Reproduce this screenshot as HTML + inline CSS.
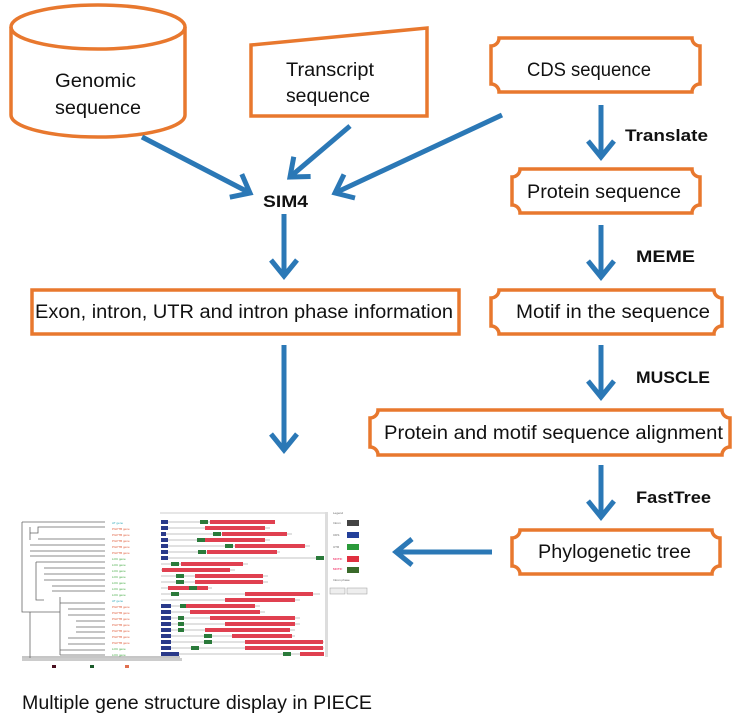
<!DOCTYPE html>
<html><head><meta charset="utf-8"><style>
html,body{margin:0;padding:0;background:#fff;}
svg{display:block;font-family:"Liberation Sans",sans-serif;}
.b{fill:none;stroke:#e8782e;stroke-width:3.5}
.a{stroke:#2b78b6;stroke-width:5;fill:none;stroke-linecap:butt}
.t{font-size:19px;fill:#111}
.l{font-size:17px;font-weight:bold;fill:#111}
</style></head><body>
<svg width="742" height="720" viewBox="0 0 742 720" xmlns="http://www.w3.org/2000/svg">
<defs>
<marker id="ah" viewBox="0 0 24 32" refX="19" refY="16" markerWidth="24" markerHeight="32" orient="auto" markerUnits="userSpaceOnUse">
<path d="M3,3 L19,16 L3,29" fill="none" stroke="#2b78b6" stroke-width="5" stroke-linejoin="miter"/>
</marker>
</defs>
<!-- cylinder -->
<path class="b" d="M11,27 L11,115 A87,22 0 0 0 185,115 L185,27"/>
<ellipse class="b" cx="98" cy="27" rx="87" ry="22"/>
<text class="t" x="55" y="87" textLength="81" lengthAdjust="spacingAndGlyphs">Genomic</text>
<text class="t" x="55" y="114" textLength="86" lengthAdjust="spacingAndGlyphs">sequence</text>
<!-- trapezoid -->
<path class="b" d="M251,45 L427,28 L427,116 L251,116 Z"/>
<text class="t" x="286" y="76" textLength="88" lengthAdjust="spacingAndGlyphs">Transcript</text>
<text class="t" x="286" y="102" textLength="84" lengthAdjust="spacingAndGlyphs">sequence</text>
<!-- scalloped boxes -->
<path class="b" d="M499,38 L692,38 A8,8 0 0 0 700,46 L700,84 A8,8 0 0 0 692,92 L499,92 A8,8 0 0 0 491,84 L491,46 A8,8 0 0 0 499,38 Z"/>
<text class="t" x="527" y="76" textLength="124" lengthAdjust="spacingAndGlyphs">CDS sequence</text>
<path class="b" d="M520,169 L692,169 A8,8 0 0 0 700,177 L700,205 A8,8 0 0 0 692,213 L520,213 A8,8 0 0 0 512,205 L512,177 A8,8 0 0 0 520,169 Z"/>
<text class="t" x="527" y="198" textLength="154" lengthAdjust="spacingAndGlyphs">Protein sequence</text>
<rect class="b" x="32" y="290" width="427" height="44"/>
<text class="t" x="35" y="318" textLength="418" lengthAdjust="spacingAndGlyphs">Exon, intron, UTR and intron phase information</text>
<path class="b" d="M499,290 L714,290 A8,8 0 0 0 722,298 L722,326 A8,8 0 0 0 714,334 L499,334 A8,8 0 0 0 491,326 L491,298 A8,8 0 0 0 499,290 Z"/>
<text class="t" x="516" y="318" textLength="194" lengthAdjust="spacingAndGlyphs">Motif in the sequence</text>
<path class="b" d="M378,410 L722,410 A8,8 0 0 0 730,418 L730,447 A8,8 0 0 0 722,455 L378,455 A8,8 0 0 0 370,447 L370,418 A8,8 0 0 0 378,410 Z"/>
<text class="t" x="384" y="439" textLength="339" lengthAdjust="spacingAndGlyphs">Protein and motif sequence alignment</text>
<path class="b" d="M520,530 L712,530 A8,8 0 0 0 720,538 L720,566 A8,8 0 0 0 712,574 L520,574 A8,8 0 0 0 512,566 L512,538 A8,8 0 0 0 520,530 Z"/>
<text class="t" x="538" y="558" textLength="153" lengthAdjust="spacingAndGlyphs">Phylogenetic tree</text>
<!-- labels -->
<text class="l" x="263" y="207" textLength="45" lengthAdjust="spacingAndGlyphs">SIM4</text>
<text class="l" x="625" y="141" textLength="83" lengthAdjust="spacingAndGlyphs">Translate</text>
<text class="l" x="636" y="262" textLength="59" lengthAdjust="spacingAndGlyphs">MEME</text>
<text class="l" x="636" y="383" textLength="74" lengthAdjust="spacingAndGlyphs">MUSCLE</text>
<text class="l" x="636" y="503" textLength="75" lengthAdjust="spacingAndGlyphs">FastTree</text>
<!-- arrows -->
<line class="a" x1="142" y1="137" x2="250" y2="193" marker-end="url(#ah)"/>
<line class="a" x1="350" y1="126" x2="290" y2="177" marker-end="url(#ah)"/>
<line class="a" x1="502" y1="115" x2="335" y2="193" marker-end="url(#ah)"/>
<line class="a" x1="284" y1="214" x2="284" y2="276" marker-end="url(#ah)"/>
<line class="a" x1="284" y1="345" x2="284" y2="450" marker-end="url(#ah)"/>
<line class="a" x1="601" y1="105" x2="601" y2="157" marker-end="url(#ah)"/>
<line class="a" x1="601" y1="225" x2="601" y2="277" marker-end="url(#ah)"/>
<line class="a" x1="601" y1="345" x2="601" y2="397" marker-end="url(#ah)"/>
<line class="a" x1="601" y1="465" x2="601" y2="517" marker-end="url(#ah)"/>
<line class="a" x1="492" y1="552" x2="396" y2="552" marker-end="url(#ah)"/>
<!-- thumbnail -->
<g stroke="#666" stroke-width="0.8" fill="none">
<path d="M22,522 L105,522 M22,522 L22,612 L30,612 M30,527 L30,540 M30,533 L38,533 L38,527 L105,527 M38,539 L105,539 M30,545 L105,545 M30,551 L105,551 M30,556 L105,556"/>
<path d="M36,562 L105,562 M36,562 L36,600 L44,600 M44,568 L105,568 M44,574 L105,574 M44,580 L105,580 M52,586 L105,586 M52,591 L105,591"/>
<path d="M30,612 L30,660 M30,612 L60,612 M60,597 L60,655 M60,603 L105,603 M68,609 L105,609 M68,615 L105,615 M76,621 L105,621 M76,627 L105,627 M76,632 L105,632 M68,638 L105,638 M68,644 L105,644 M60,650 L105,650 M60,655 L105,655"/>
<path d="M22,657 L180,657"/>
</g>
<g font-size="3" fill="#e06040">
<text x="112" y="524" fill="#3ab">AT gene</text><text x="112" y="530">PGPTB gene</text><text x="112" y="536">PGPTB gene</text><text x="112" y="542">PGPTB gene</text><text x="112" y="548">PGPTB gene</text><text x="112" y="554">PGPTB gene</text>
<text x="112" y="560" fill="#4a4">LOC gene</text><text x="112" y="566" fill="#4a4">LOC gene</text><text x="112" y="572" fill="#4a4">LOC gene</text><text x="112" y="578" fill="#4a4">LOC gene</text><text x="112" y="584" fill="#4a4">LOC gene</text><text x="112" y="590" fill="#4a4">LOC gene</text><text x="112" y="596" fill="#4a4">LOC gene</text>
<text x="112" y="602" fill="#3ab">AT gene</text><text x="112" y="608">PGPTB gene</text><text x="112" y="614">PGPTB gene</text><text x="112" y="620">PGPTB gene</text><text x="112" y="626">PGPTB gene</text><text x="112" y="632">PGPTB gene</text><text x="112" y="638">PGPTB gene</text><text x="112" y="644">PGPTB gene</text><text x="112" y="650" fill="#4a4">LOC gene</text><text x="112" y="656" fill="#4a4">LOC gene</text>
</g>
<line x1="160" y1="513" x2="325" y2="513" stroke="#999" stroke-width="0.6"/>
<g stroke="#888" stroke-width="0.6">
<line x1="161" y1="522" x2="275" y2="522"/><line x1="161" y1="528" x2="270" y2="528"/><line x1="161" y1="534" x2="292" y2="534"/><line x1="161" y1="540" x2="270" y2="540"/><line x1="161" y1="546" x2="310" y2="546"/><line x1="161" y1="552" x2="280" y2="552"/><line x1="161" y1="558" x2="322" y2="558"/><line x1="161" y1="564" x2="248" y2="564"/><line x1="161" y1="570" x2="235" y2="570"/><line x1="161" y1="576" x2="268" y2="576"/><line x1="161" y1="582" x2="268" y2="582"/><line x1="161" y1="588" x2="212" y2="588"/><line x1="161" y1="594" x2="320" y2="594"/><line x1="161" y1="600" x2="300" y2="600"/><line x1="161" y1="606" x2="260" y2="606"/><line x1="161" y1="612" x2="265" y2="612"/><line x1="161" y1="618" x2="300" y2="618"/><line x1="161" y1="624" x2="300" y2="624"/><line x1="161" y1="630" x2="295" y2="630"/><line x1="161" y1="636" x2="295" y2="636"/><line x1="161" y1="642" x2="324" y2="642"/><line x1="161" y1="648" x2="324" y2="648"/><line x1="161" y1="654" x2="324" y2="654"/>
</g>
<g fill="#e04050">
<rect x="210" y="520" width="65" height="4"/><rect x="205" y="526" width="60" height="4"/><rect x="222" y="532" width="65" height="4"/><rect x="205" y="538" width="60" height="4"/><rect x="235" y="544" width="70" height="4"/><rect x="207" y="550" width="70" height="4"/>
<rect x="181" y="562" width="62" height="4"/><rect x="162" y="568" width="68" height="4"/><rect x="195" y="574" width="68" height="4"/><rect x="195" y="580" width="68" height="4"/><rect x="168" y="586" width="40" height="4"/><rect x="245" y="592" width="68" height="4"/><rect x="225" y="598" width="70" height="4"/>
<rect x="185" y="604" width="70" height="4"/><rect x="190" y="610" width="70" height="4"/><rect x="210" y="616" width="85" height="4"/><rect x="225" y="622" width="70" height="4"/><rect x="205" y="628" width="85" height="4"/><rect x="232" y="634" width="60" height="4"/><rect x="245" y="640" width="78" height="4"/><rect x="245" y="646" width="78" height="4"/><rect x="300" y="652" width="24" height="4"/>
</g>
<g fill="#2a7a3a">
<rect x="200" y="520" width="8" height="4"/><rect x="213" y="532" width="8" height="4"/><rect x="197" y="538" width="8" height="4"/><rect x="225" y="544" width="8" height="4"/><rect x="198" y="550" width="8" height="4"/><rect x="316" y="556" width="8" height="4"/><rect x="171" y="562" width="8" height="4"/><rect x="176" y="574" width="8" height="4"/><rect x="176" y="580" width="8" height="4"/><rect x="189" y="586" width="8" height="4"/><rect x="171" y="592" width="8" height="4"/><rect x="180" y="604" width="6" height="4"/><rect x="178" y="616" width="6" height="4"/><rect x="178" y="622" width="6" height="4"/><rect x="178" y="628" width="6" height="4"/><rect x="204" y="634" width="8" height="4"/><rect x="204" y="640" width="8" height="4"/><rect x="191" y="646" width="8" height="4"/><rect x="283" y="652" width="8" height="4"/>
</g>
<g fill="#2a3a8a">
<rect x="161" y="520" width="7" height="4"/><rect x="161" y="526" width="7" height="4"/><rect x="161" y="532" width="5" height="4"/><rect x="161" y="538" width="7" height="4"/><rect x="161" y="544" width="7" height="4"/><rect x="161" y="550" width="7" height="4"/><rect x="161" y="556" width="7" height="4"/><rect x="161" y="604" width="10" height="4"/><rect x="161" y="610" width="10" height="4"/><rect x="161" y="616" width="10" height="4"/><rect x="161" y="622" width="10" height="4"/><rect x="161" y="628" width="10" height="4"/><rect x="161" y="634" width="10" height="4"/><rect x="161" y="640" width="10" height="4"/><rect x="161" y="646" width="10" height="4"/><rect x="161" y="652" width="18" height="4"/>
</g>
<rect x="325" y="512" width="3" height="145" fill="#ddd"/>
<g font-size="3" fill="#666"><text x="333" y="514">Legend</text><text x="333" y="524">Intron</text><text x="333" y="536">CDS</text><text x="333" y="548">UTR</text><text x="333" y="560" fill="#e04">MOTIF</text><text x="333" y="570" fill="#e04">MOTIF</text><text x="333" y="581">Intron phase</text></g>
<rect x="347" y="520" width="12" height="6" fill="#444"/><rect x="347" y="532" width="12" height="6" fill="#23409a"/><rect x="347" y="544" width="12" height="6" fill="#2a9a3a"/><rect x="347" y="556" width="12" height="6" fill="#e03040"/><rect x="347" y="567" width="12" height="6" fill="#3a6a2a"/>
<rect x="330" y="588" width="15" height="6" fill="#eee" stroke="#999" stroke-width="0.5"/><rect x="347" y="588" width="20" height="6" fill="#eee" stroke="#999" stroke-width="0.5"/>
<rect x="22" y="658" width="160" height="3" fill="#ccc"/>
<rect x="52" y="665" width="4" height="3" fill="#4a1020"/><rect x="90" y="665" width="4" height="3" fill="#1a5a2a"/><rect x="125" y="665" width="4" height="3" fill="#e07050"/>
<text x="22" y="709" style="font-size:19px" fill="#111" textLength="350" lengthAdjust="spacingAndGlyphs">Multiple gene structure display in PIECE</text>
</svg>
</body></html>
